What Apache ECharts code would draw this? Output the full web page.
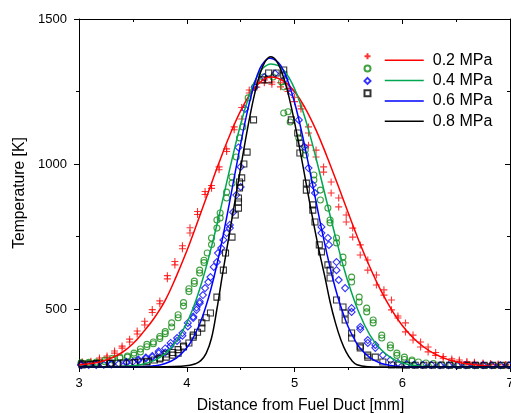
<!DOCTYPE html>
<html><head><meta charset="utf-8">
<script src="https://cdn.jsdelivr.net/npm/echarts@6/dist/echarts.min.js"></script>
<style>html,body{margin:0;padding:0;background:#fff}#c{width:511px;height:413px}</style>
</head><body><div id="c"></div>
<script>
var legendNames = ['0.2 MPa','0.4 MPa','0.6 MPa','0.8 MPa'];
var yLabelValues = [500,1000,1500];
var yMinorValues = [750,1250];

// measured points [x mm, T K]
var redPts = [[3.03,314],[3.03,318],[3.11,316],[3.11,320],[3.19,326],[3.19,331],[3.26,333],[3.26,338],[3.33,348],[3.33,355],[3.40,365],[3.40,372],[3.47,386],[3.47,396],[3.54,414],[3.54,424],[3.61,445],[3.61,458],[3.68,488],[3.68,498],[3.75,518],[3.75,528],[3.82,604],[3.82,615],[3.89,652],[3.89,664],[3.96,708],[3.96,718],[4.03,762],[4.03,780],[4.10,826],[4.10,836],[4.17,895],[4.17,905],[4.23,916],[4.23,926],[4.30,980],[4.30,990],[4.37,1043],[4.37,1052],[4.44,1118],[4.44,1128],[4.51,1155],[4.51,1195],[4.58,1245],[4.58,1255],[4.65,1265],[4.65,1280],[4.72,1280],[4.72,1290],[4.79,1275],[4.79,1283],[4.87,1266],[4.87,1280],[4.94,1250],[4.94,1260],[5.00,1215],[5.00,1230],[5.06,1190],[5.06,1200],[5.13,1065],[5.13,1107],[5.13,1128],[5.20,1024],[5.20,1048],[5.27,972],[5.27,990],[5.34,900],[5.34,938],[5.41,852],[5.41,883],[5.48,800],[5.48,824],[5.54,748],[5.54,779],[5.61,686],[5.61,721],[5.68,634],[5.68,669],[5.76,583],[5.76,617],[5.83,548],[5.83,566],[5.90,497],[5.90,531],[5.96,469],[5.96,476],[6.03,421],[6.03,452],[6.10,393],[6.10,410],[6.17,369],[6.17,386],[6.24,352],[6.24,369],[6.31,340],[6.31,350],[6.38,330],[6.38,336],[6.46,322],[6.46,328],[6.53,318],[6.53,324],[6.60,315],[6.60,319],[6.67,312],[6.67,316],[6.75,311],[6.75,314],[6.82,309],[6.82,312],[6.89,307],[6.89,310],[6.96,306],[6.96,309]];
var greenPts = [[3.02,312],[3.02,315],[3.09,313],[3.09,316],[3.16,314],[3.16,317],[3.24,318],[3.24,324],[3.31,324],[3.31,330],[3.38,330],[3.38,334],[3.45,334],[3.45,338],[3.51,341],[3.51,348],[3.57,352],[3.57,362],[3.63,370],[3.63,378],[3.69,380],[3.69,386],[3.75,398],[3.75,405],[3.80,415],[3.80,422],[3.86,438],[3.86,452],[3.92,470],[3.92,480],[3.97,510],[3.97,522],[4.02,560],[4.02,570],[4.07,588],[4.07,596],[4.12,624],[4.12,634],[4.16,660],[4.16,668],[4.19,693],[4.23,722],[4.23,745],[4.28,779],[4.28,807],[4.31,814],[4.31,831],[4.37,883],[4.37,903],[4.42,934],[4.42,955],[4.46,1024],[4.49,1090],[4.52,1128],[4.57,1228],[4.63,1266],[4.71,1300],[4.80,1300],[4.88,1283],[4.90,1266],[4.90,1176],[4.94,1180],[4.96,1145],[5.04,1090],[5.10,1048],[5.10,1031],[5.18,962],[5.18,945],[5.24,910],[5.24,876],[5.31,848],[5.33,807],[5.33,797],[5.39,745],[5.39,728],[5.45,679],[5.45,659],[5.53,610],[5.53,593],[5.60,541],[5.60,524],[5.67,503],[5.67,490],[5.73,452],[5.73,462],[5.81,410],[5.81,400],[5.89,376],[5.89,366],[5.95,348],[5.95,340],[6.02,334],[6.02,326],[6.09,324],[6.09,320],[6.15,317],[6.22,314],[6.29,312],[6.37,308],[6.45,307],[6.53,306],[6.61,306],[6.69,305],[6.77,305],[6.85,305],[6.93,305],[7.0,305]];
var bluePts = [[3.02,306],[3.02,309],[3.09,307],[3.16,307],[3.16,310],[3.23,308],[3.30,309],[3.30,311],[3.37,311],[3.44,314],[3.44,318],[3.50,318],[3.55,322],[3.55,326],[3.62,329],[3.62,333],[3.68,334],[3.68,338],[3.74,348],[3.74,354],[3.80,350],[3.80,364],[3.85,372],[3.85,383],[3.91,390],[3.91,400],[3.96,408],[3.96,417],[4.01,440],[4.01,452],[4.06,469],[4.06,474],[4.09,497],[4.09,505],[4.12,520],[4.12,526],[4.15,548],[4.17,572],[4.20,593],[4.22,610],[4.25,645],[4.28,662],[4.29,693],[4.32,710],[4.34,738],[4.37,762],[4.40,779],[4.40,790],[4.43,834],[4.46,893],[4.50,921],[4.50,990],[4.48,1057],[4.54,1190],[4.63,1265],[4.72,1300],[4.82,1312],[4.91,1292],[4.97,1248],[5.04,1152],[5.09,1060],[5.13,986],[5.17,928],[5.19,900],[5.25,783],[5.25,762],[5.32,721],[5.31,745],[5.39,634],[5.39,662],[5.41,600],[5.47,572],[5.53,503],[5.53,490],[5.61,438],[5.61,430],[5.68,393],[5.68,383],[5.75,376],[5.75,366],[5.82,341],[5.89,324],[5.96,314],[6.04,310],[6.11,308],[6.19,307],[6.27,307],[6.35,306],[6.43,306],[6.51,306],[6.59,306],[6.67,306],[6.75,306],[6.83,306],[6.91,306],[6.99,306]];
var blackPts = [[3.03,307],[3.03,311],[3.10,309],[3.16,310],[3.16,312],[3.23,312],[3.29,312],[3.29,314],[3.36,313],[3.41,314],[3.47,314],[3.52,315],[3.57,317],[3.63,317],[3.63,320],[3.70,324],[3.75,328],[3.75,331],[3.81,334],[3.81,345],[3.87,341],[3.87,350],[3.92,348],[3.92,360],[3.97,369],[3.97,372],[4.02,383],[4.06,403],[4.06,410],[4.10,420],[4.14,434],[4.14,452],[4.18,470],[4.22,486],[4.28,541],[4.34,634],[4.36,693],[4.42,748],[4.45,824],[4.48,848],[4.48,869],[4.48,883],[4.49,917],[4.49,938],[4.51,952],[4.53,1000],[4.56,1041],[4.62,1152],[4.70,1290],[4.76,1314],[4.76,1290],[4.83,1314],[4.90,1324],[4.90,1307],[4.97,1152],[5.03,1107],[5.05,1072],[5.05,1038],[5.11,934],[5.11,910],[5.17,859],[5.17,841],[5.19,800],[5.23,721],[5.25,697],[5.31,652],[5.33,634],[5.33,607],[5.39,531],[5.45,507],[5.47,486],[5.47,462],[5.53,417],[5.53,400],[5.61,366],[5.61,372],[5.68,334],[5.68,341],[5.75,334],[5.82,317],[5.90,307],[5.97,307],[6.04,306],[6.12,306],[6.20,306],[6.28,306],[6.36,306],[6.44,306],[6.52,306],[6.60,306],[6.68,306],[6.76,306],[6.84,306],[6.92,306],[7.0,306]];

// fitted curves [x mm, T K]
var redFit = [[3.0,307],[3.1,311],[3.2,318],[3.3,331],[3.4,350],[3.5,380],[3.6,422],[3.7,470],[3.8,530],[3.9,610],[4.0,700],[4.1,800],[4.2,903],[4.3,1005],[4.4,1100],[4.5,1183],[4.6,1248],[4.7,1288],[4.78,1300],[4.9,1286],[5.0,1250],[5.1,1192],[5.2,1117],[5.3,1027],[5.4,930],[5.5,830],[5.6,733],[5.7,644],[5.8,565],[5.9,498],[6.0,443],[6.1,401],[6.2,369],[6.3,345],[6.4,329],[6.5,318],[6.6,311],[6.8,303],[7.0,301]];
var greenFit = [[3.0,300],[3.3,301],[3.4,302],[3.5,304],[3.6,310],[3.7,323],[3.8,346],[3.9,387],[4.0,452],[4.05,495],[4.1,546],[4.15,605],[4.2,672],[4.25,745],[4.3,822],[4.35,903],[4.4,984],[4.45,1063],[4.5,1137],[4.55,1202],[4.6,1257],[4.65,1300],[4.7,1328],[4.78,1345],[4.85,1339],[4.9,1323],[4.95,1297],[5.0,1260],[5.05,1212],[5.1,1156],[5.15,1091],[5.2,1020],[5.25,945],[5.3,869],[5.35,793],[5.4,721],[5.45,652],[5.5,590],[5.6,486],[5.7,410],[5.8,361],[5.9,331],[6.0,314],[6.1,306],[6.2,302],[6.4,300],[7.0,300]];
var blueFit = [[3.0,300],[3.5,300],[3.6,301],[3.7,304],[3.8,312],[3.9,330],[4.0,366],[4.05,394],[4.1,431],[4.15,478],[4.2,536],[4.25,606],[4.3,687],[4.35,777],[4.4,873],[4.45,972],[4.5,1069],[4.55,1160],[4.6,1239],[4.65,1301],[4.7,1343],[4.77,1365],[4.85,1350],[4.9,1320],[4.95,1274],[5.0,1213],[5.05,1138],[5.1,1053],[5.15,962],[5.2,870],[5.25,778],[5.3,692],[5.35,613],[5.4,544],[5.45,486],[5.5,437],[5.55,400],[5.6,369],[5.7,332],[5.8,313],[5.9,305],[6.0,301],[6.5,300],[7.0,300]];
var blackFit = [[3.0,300],[3.5,300],[3.8,301],[3.95,303],[4.03,306],[4.08,311],[4.13,322],[4.18,347],[4.23,400],[4.28,500],[4.33,615],[4.38,725],[4.43,834],[4.48,942],[4.53,1051],[4.58,1153],[4.63,1242],[4.68,1311],[4.73,1355],[4.78,1370],[4.83,1357],[4.88,1319],[4.93,1259],[4.98,1180],[5.03,1089],[5.08,990],[5.13,888],[5.18,790],[5.23,698],[5.28,614],[5.33,525],[5.38,452],[5.43,394],[5.48,351],[5.53,323],[5.58,308],[5.68,301],[5.8,300],[6.5,300],[7.0,300]];

var FONT = 'Liberation Sans, Arial, sans-serif';
var lineColors = ['#ff0000','#00a651','#0000ff','#000000'];
var markColors = ['#ff0000','#138a13','#0000ff','#000000'];
var symbols = ['path://M5,0L5,10M0,5L10,5','circle','diamond','rect'];
var symSizes = [7,6,7,6];
var ptsList = [redPts, greenPts, bluePts, blackPts];
var fitList = [redFit, greenFit, blueFit, blackFit];

var series = [];
var scatterNames = [];
for (var i = 0; i < 4; i++) {
  var sn = legendNames[i] + ' data';
  scatterNames.push(sn);
  series.push({
    name: sn, type: 'scatter', data: ptsList[i], symbol: symbols[i], symbolSize: symSizes[i],
    itemStyle: {color: 'rgba(0,0,0,0)', borderColor: markColors[i], borderWidth: 1.1},
    emphasis: {disabled: true}, z: 2, silent: true
  });
}
for (var j = 0; j < 4; j++) {
  series.push({
    name: legendNames[j], type: 'line', data: fitList[j], smooth: 0.4, showSymbol: false, symbol: 'none',
    lineStyle: {color: lineColors[j], width: 1.5}, itemStyle: {color: lineColors[j]}, z: 3, silent: true
  });
}

var axisLineStyle = {color: '#000', width: 1};
function plainNum(v) { return String(v); }
var chart = echarts.init(document.getElementById('c'), null, {renderer: 'canvas'});
chart.setOption({
  animation: false,
  backgroundColor: '#fff',
  grid: {left: 79, right: 1, top: 19, bottom: 46, containLabel: false, outerBoundsMode: 'none'},
  legend: [{
    data: scatterNames, orient: 'vertical', left: 363.5, top: 52.3, padding: 0, itemWidth: 6, itemHeight: 6, itemGap: 4.3,
    formatter: function(){ return ''; }, textStyle: {fontSize: 16, lineHeight: 16}, selectedMode: false
  }, {
    data: legendNames, orient: 'vertical', left: 384, top: 52.3, padding: 0, itemWidth: 39, itemHeight: 14, itemGap: 4.3,
    itemStyle: {opacity: 0},
    lineStyle: {width: 1.5},
    textStyle: {fontSize: 16, lineHeight: 16, fontFamily: FONT, color: '#000', padding: [0,0,0,4]}, selectedMode: false
  }],
  xAxis: [{
    type: 'value', min: 3, max: 7, interval: 1, position: 'bottom',
    name: 'Distance from Fuel Duct [mm]', nameLocation: 'middle', nameGap: 31,
    nameTextStyle: {fontSize: 15.7, fontFamily: FONT, color: '#000', padding: [0,0,0,12]},
    axisLine: {lineStyle: axisLineStyle}, axisTick: {inside: false, length: 5, lineStyle: axisLineStyle},
    minorTick: {show: true, splitNumber: 2, length: 3, lineStyle: axisLineStyle},
    axisLabel: {fontSize: 13, fontFamily: FONT, color: '#000', margin: 10, formatter: plainNum},
    splitLine: {show: false}
  }, {
    type: 'value', min: 3, max: 7, interval: 1, position: 'top',
    axisLine: {lineStyle: axisLineStyle}, axisTick: {inside: true, length: 5, lineStyle: axisLineStyle},
    minorTick: {show: true, splitNumber: 2, length: 3, lineStyle: axisLineStyle},
    axisLabel: {show: false}, splitLine: {show: false}
  }],
  yAxis: [{
    type: 'value', min: 300, max: 1500, position: 'left',
    name: 'Temperature [K]', nameLocation: 'middle', nameGap: 47,
    nameTextStyle: {fontSize: 15.7, fontFamily: FONT, color: '#000'},
    axisLine: {show: true, lineStyle: axisLineStyle},
    axisTick: {show: true, inside: false, length: 5, customValues: yLabelValues, lineStyle: axisLineStyle},
    axisLabel: {fontSize: 13, fontFamily: FONT, color: '#000', margin: 12, customValues: yLabelValues, formatter: plainNum},
    splitLine: {show: false}
  }, {
    type: 'value', min: 300, max: 1500, position: 'left',
    axisLine: {show: false},
    axisTick: {show: true, inside: false, length: 3, customValues: yMinorValues, lineStyle: axisLineStyle},
    axisLabel: {show: false}, splitLine: {show: false}
  }, {
    type: 'value', min: 300, max: 1500, position: 'right',
    axisLine: {show: true, lineStyle: axisLineStyle},
    axisTick: {show: true, inside: true, length: 5, customValues: yLabelValues, lineStyle: axisLineStyle},
    axisLabel: {show: false}, splitLine: {show: false}
  }, {
    type: 'value', min: 300, max: 1500, position: 'right',
    axisLine: {show: false},
    axisTick: {show: true, inside: true, length: 3, customValues: yMinorValues, lineStyle: axisLineStyle},
    axisLabel: {show: false}, splitLine: {show: false}
  }],
  series: series
});
</script>
</body></html>
